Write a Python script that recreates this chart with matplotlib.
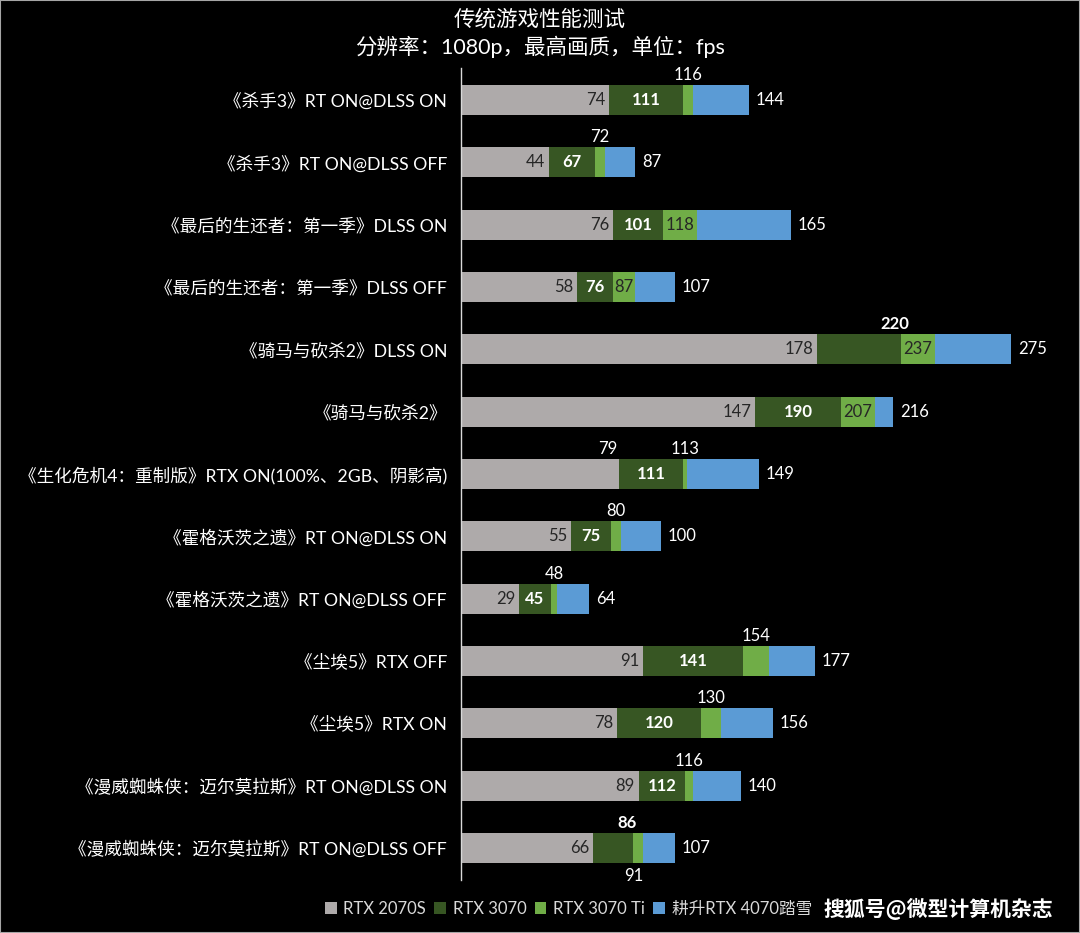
import matplotlib
matplotlib.use('Agg')
import matplotlib.pyplot as plt
from matplotlib.patches import Patch, Rectangle

plt.rcParams['font.family'] = ['Lato', 'Noto Sans CJK SC', 'DejaVu Sans']

# 数据
games = ['《杀手3》RT ON@DLSS ON', '《杀手3》RT ON@DLSS OFF',
         '《最后的生还者：第一季》DLSS ON', '《最后的生还者：第一季》DLSS OFF',
         '《骑马与砍杀2》DLSS ON', '《骑马与砍杀2》',
         '《生化危机4：重制版》RTX ON(100%、2GB、阴影高)',
         '《霍格沃茨之遗》RT ON@DLSS ON', '《霍格沃茨之遗》RT ON@DLSS OFF',
         '《尘埃5》RTX OFF', '《尘埃5》RTX ON',
         '《漫威蜘蛛侠：迈尔莫拉斯》RT ON@DLSS ON', '《漫威蜘蛛侠：迈尔莫拉斯》RT ON@DLSS OFF']
rtx2070s = [74, 44, 76, 58, 178, 147, 79, 55, 29, 91, 78, 89, 66]
rtx3070 = [111, 67, 101, 76, 220, 190, 111, 75, 45, 141, 120, 112, 86]
rtx3070ti = [116, 72, 118, 87, 237, 207, 113, 80, 48, 154, 130, 116, 91]
rtx4070 = [144, 87, 165, 107, 275, 216, 149, 100, 64, 177, 156, 140, 107]
series_names = ['RTX 2070S', 'RTX 3070', 'RTX 3070 Ti', '耕升RTX 4070踏雪']

# 标签摆放方式
mode_2070s = ['in'] * 6 + ['above'] + ['in'] * 6
mode_3070 = ['in'] * 4 + ['above'] + ['in'] * 7 + ['above']
mode_ti = ['above', 'above', 'in', 'in', 'in', 'in', 'above', 'above', 'above',
           'above', 'above', 'above', 'below']

colors = ['#AEAAAA', '#375623', '#70AD47', '#5B9BD5']
dark = '#262626'
fs = 12

fig = plt.figure(figsize=(10.8, 9.33), dpi=100, facecolor='black')
ax = fig.add_axes([461 / 1080, 53 / 933, 600 / 1080, 812 / 933])
ax.set_facecolor('black')

y = list(range(len(games)))
h = 0.48
for vals, c in zip([rtx4070, rtx3070ti, rtx3070, rtx2070s], colors[::-1]):
    ax.barh(y, vals, height=h, color=c, zorder=2)

off = 0.4
for i in y:
    a, b, t, d = rtx2070s[i], rtx3070[i], rtx3070ti[i], rtx4070[i]
    # 2070S
    if mode_2070s[i] == 'in':
        ax.text(a - 2, i, str(a), ha='right', va='center', color=dark, fontsize=fs, zorder=3)
    else:
        ax.text(a - 1, i - off, str(a), ha='right', va='center', color='white', fontsize=fs, zorder=3)
    # 3070
    if mode_3070[i] == 'in':
        ax.text((a + b) / 2, i, str(b), ha='center', va='center', color='white',
                fontsize=fs, fontweight='bold', zorder=3)
    else:
        ax.text(b - 3, i - off, str(b), ha='center', va='center', color='white',
                fontsize=fs, fontweight='bold', zorder=3)
    # 3070 Ti
    if mode_ti[i] == 'in':
        ax.text((b + t) / 2, i, str(t), ha='center', va='center', color=dark, fontsize=fs, zorder=3)
    elif mode_ti[i] == 'above':
        ax.text((b + t) / 2, i - off, str(t), ha='center', va='center', color='white', fontsize=fs, zorder=3)
    else:
        ax.text((b + t) / 2 - 2, i + off + 0.05, str(t), ha='center', va='center', color='white',
                fontsize=fs, zorder=3)
    # 4070
    ax.text(d + 3.5, i, str(d), ha='left', va='center', color='white', fontsize=fs, zorder=3)

ax.set_xlim(0, 300)
ax.set_ylim(12.513, -0.513)
ax.set_yticks(y)
ax.set_yticklabels(games, color='white', fontsize=12.7)
ax.tick_params(axis='y', length=0, pad=10)
ax.set_xticks([])
for s in ['top', 'right', 'bottom']:
    ax.spines[s].set_visible(False)
ax.spines['left'].set_color('#D9D9D9')
ax.spines['left'].set_linewidth(1)

fig.text(0.5, 1 - 19 / 933, '传统游戏性能测试', ha='center', va='center', color='white', fontsize=15.5)
fig.text(0.5, 1 - 47 / 933, '分辨率：1080p，最高画质，单位：fps', ha='center', va='center',
         color='white', fontsize=15.5)

handles = [Patch(facecolor=c, edgecolor='none') for c in colors]
leg = fig.legend(handles, series_names, loc='center left', bbox_to_anchor=(310 / 1080, 1 - 909 / 933),
                 ncol=4, frameon=False, handlelength=0.7, handleheight=0.7, handletextpad=0.4,
                 columnspacing=0.5, fontsize=12)
for t in leg.get_texts():
    t.set_color('#D9D9D9')

fig.text(1053 / 1080, 1 - 909 / 933, '搜狐号@微型计算机杂志', ha='right', va='center', color='white',
         fontsize=15, fontweight='bold', family=['Noto Sans CJK SC', 'DejaVu Sans'])

fig.patches.append(Rectangle((0, 0), 1, 1, transform=fig.transFigure, fill=False,
                             edgecolor='#A6A6A6', linewidth=1.5))

fig.savefig('out.png', dpi=100, facecolor='black')
